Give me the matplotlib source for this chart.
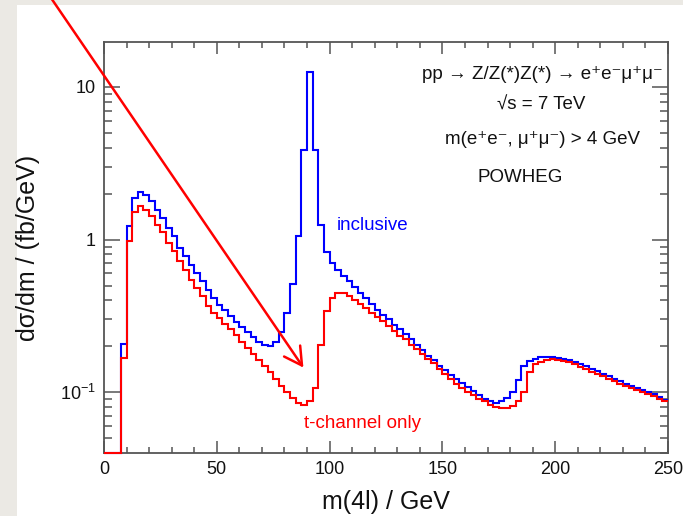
import numpy as np
import matplotlib
matplotlib.use('Agg')
import matplotlib.pyplot as plt
from matplotlib.patches import Rectangle, FancyArrowPatch, ArrowStyle
from matplotlib.ticker import FixedLocator, FixedFormatter, LogLocator, MultipleLocator, NullFormatter

# 2.5 GeV bins from 0 to 250 GeV
edges = np.arange(0, 252.5, 2.5)

# d sigma / dm in fb/GeV, one value per bin
inclusive = [0, 0, 0, 0.208, 1.22, 1.88, 2.04, 1.97, 1.78, 1.57,
             1.39, 1.19, 1.05, 0.88, 0.786, 0.686, 0.60, 0.533, 0.471, 0.415,
             0.375, 0.345, 0.315, 0.29, 0.268, 0.248, 0.23, 0.215, 0.205, 0.20,
             0.213, 0.25, 0.33, 0.51, 1.06, 3.88, 12.5, 3.84, 1.25, 0.826,
             0.704, 0.636, 0.581, 0.533, 0.49, 0.448, 0.415, 0.381, 0.348, 0.323,
             0.30, 0.277, 0.258, 0.239, 0.222, 0.205, 0.189, 0.174, 0.162, 0.149,
             0.139, 0.13, 0.122, 0.115, 0.108, 0.102, 0.096, 0.091, 0.087, 0.085,
             0.087, 0.092, 0.10, 0.121, 0.148, 0.16, 0.166, 0.169, 0.171, 0.171,
             0.168, 0.166, 0.162, 0.157, 0.152, 0.148, 0.141, 0.137, 0.132, 0.128,
             0.123, 0.118, 0.114, 0.110, 0.107, 0.104, 0.101, 0.098, 0.0935, 0.089]

tchannel = [0, 0, 0, 0.168, 0.985, 1.52, 1.65, 1.57, 1.42, 1.25,
            1.12, 0.95, 0.84, 0.72, 0.63, 0.547, 0.483, 0.425, 0.366, 0.331,
            0.305, 0.28, 0.258, 0.236, 0.215, 0.196, 0.178, 0.162, 0.148, 0.135,
            0.122, 0.11, 0.10, 0.092, 0.085, 0.083, 0.088, 0.107, 0.205, 0.34,
            0.415, 0.448, 0.448, 0.43, 0.405, 0.381, 0.357, 0.331, 0.312, 0.292,
            0.27, 0.251, 0.235, 0.222, 0.205, 0.191, 0.177, 0.166, 0.156, 0.142,
            0.131, 0.122, 0.114, 0.107, 0.101, 0.096, 0.091, 0.087, 0.083, 0.08,
            0.079, 0.079, 0.081, 0.088, 0.10, 0.135, 0.152, 0.158, 0.162, 0.164,
            0.163, 0.161, 0.157, 0.152, 0.147, 0.142, 0.136, 0.132, 0.127, 0.123,
            0.118, 0.114, 0.110, 0.106, 0.103, 0.100, 0.097, 0.094, 0.090, 0.087]

xticks = [0, 50, 100, 150, 200, 250]
yticks = [0.1, 1, 10]
ytick_labels = ['$10^{-1}$', '1', '10']
ymin, ymax = 0.04, 19.7

plt.rcParams['font.family'] = ['Liberation Sans', 'DejaVu Sans']
plt.rcParams['mathtext.fontset'] = 'custom'
plt.rcParams['mathtext.rm'] = 'Liberation Sans'
plt.rcParams['mathtext.it'] = 'Liberation Sans:italic'
plt.rcParams['mathtext.bf'] = 'Liberation Sans:bold'

W, H = 683, 516
fig = plt.figure(figsize=(W / 100, H / 100), dpi=100, facecolor='#ebe9e4')
# white slide panel behind the plot
fig.patches.append(Rectangle((17 / W, 0), 1 - 17 / W, 511 / H, transform=fig.transFigure,
                             facecolor='white', edgecolor='none', zorder=-10))

ax = fig.add_axes([104 / W, 1 - 453 / H, (668 - 104) / W, (453 - 42) / H])
ax.set_zorder(5)
ax.set_yscale('log')
ax.set_xlim(0, 250)
ax.set_ylim(ymin, ymax)

# empty bins sit on the frame bottom, as in ROOT
incl = np.where(np.array(inclusive) > 0, inclusive, ymin)
tch = np.where(np.array(tchannel) > 0, tchannel, ymin)
ax.stairs(incl, edges, color='#0000ff', lw=1.5, baseline=None, zorder=3, clip_on=False)
ax.stairs(tch, edges, color='#ff0000', lw=1.5, baseline=None, zorder=3.1, clip_on=False)

axcol = '#555555'
for s in ax.spines.values():
    s.set_color(axcol)
    s.set_linewidth(1.3)

ax.xaxis.set_major_locator(FixedLocator(xticks))
ax.xaxis.set_minor_locator(MultipleLocator(10))
ax.yaxis.set_major_locator(FixedLocator(yticks))
ax.yaxis.set_major_formatter(FixedFormatter(ytick_labels))
ax.yaxis.set_minor_locator(LogLocator(base=10, subs=np.arange(2, 10)))
ax.yaxis.set_minor_formatter(NullFormatter())
ax.tick_params(which='both', direction='in', top=True, right=True, color=axcol,
               width=1.1, labelsize=13, labelcolor='#111111')
ax.tick_params(axis='x', which='major', length=8.6, pad=6)
ax.tick_params(axis='x', which='minor', length=4.3)
ax.tick_params(axis='y', which='major', length=11.5, pad=6)
ax.tick_params(axis='y', which='minor', length=5.8)

ax.set_xlabel('m(4l) / GeV', fontsize=18, color='#111111')
ax.set_ylabel('dσ/dm / (fb/GeV)', fontsize=18, color='#111111')
ax.xaxis.set_label_coords(0.5, -0.09)
ax.yaxis.set_label_coords(-0.113, 0.5)

tkw = dict(ha='center', va='center', fontsize=13.5, color='#111111')
ax.text(194.5, 12.0, 'pp → Z/Z(*)Z(*) → e⁺e⁻μ⁺μ⁻', **tkw)
ax.text(193.6, 7.6, '√s = 7 TeV', **tkw)
ax.text(194.5, 4.5, 'm(e⁺e⁻, μ⁺μ⁻) > 4 GeV', **tkw)
ax.text(184.7, 2.54, 'POWHEG', **tkw)
ax.text(119, 1.23, 'inclusive', ha='center', va='center', fontsize=13.5, color='#0000ff')
ax.text(114.6, 0.0627, 't-channel only', ha='center', va='center', fontsize=13.5, color='#ff0000')

# red pointer arrow coming from the top-left corner
arrow = FancyArrowPatch((-26, 43.4), (88.4, 0.145), transform=ax.transData,
                        arrowstyle=ArrowStyle('->', head_length=12.6, head_width=7.0),
                        mutation_scale=1, color='#ff0000', lw=1.8,
                        shrinkA=0, shrinkB=0, clip_on=False, zorder=20)
fig.add_artist(arrow)

fig.savefig('out.png', dpi=100, facecolor=fig.get_facecolor())
